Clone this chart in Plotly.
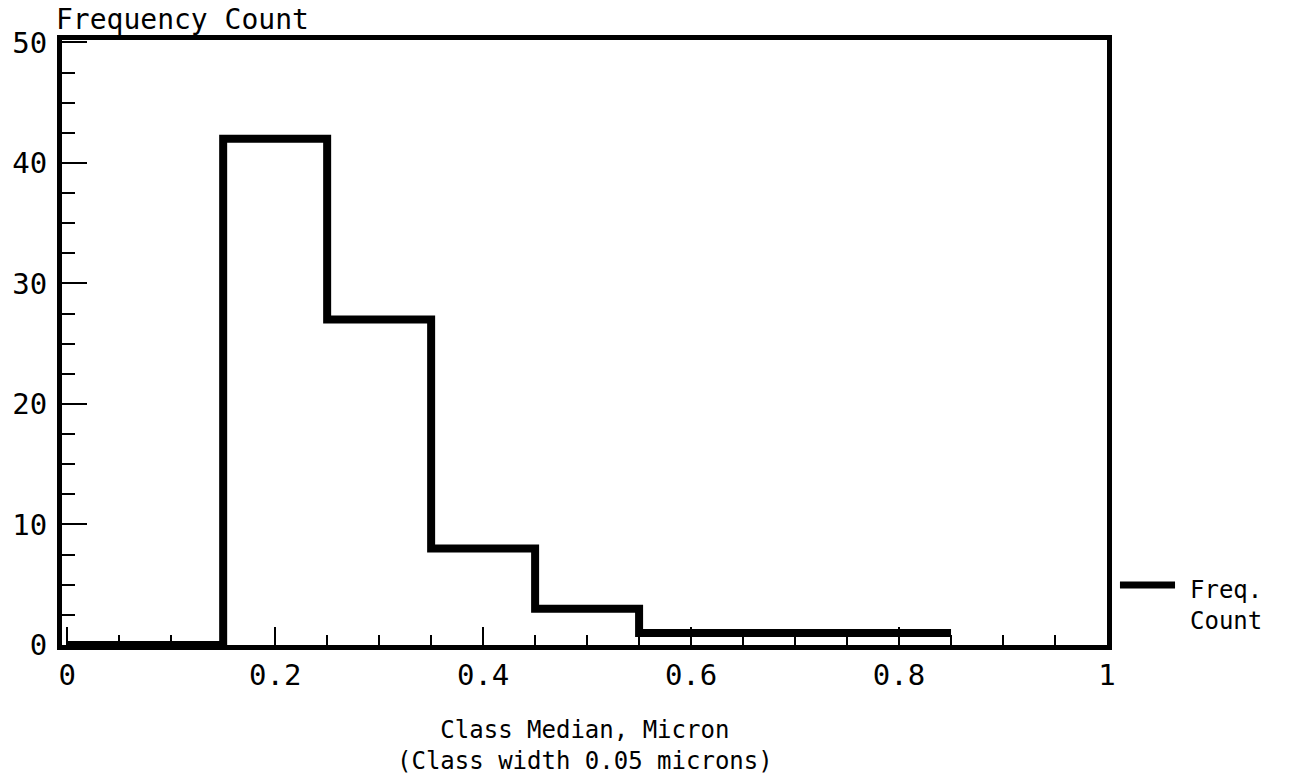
import plotly.graph_objects as go

# Histogram of particle sizes: class boundaries (microns) and frequency counts
bin_edges = [0.0, 0.15, 0.25, 0.35, 0.45, 0.55, 0.65, 0.75, 0.85]
freq_counts = [0, 42, 27, 8, 3, 1, 1, 1]

x_tick_vals = [0, 0.2, 0.4, 0.6, 0.8, 1]
x_tick_text = ["0", "0.2", "0.4", "0.6", "0.8", "1"]
y_tick_vals = [0, 10, 20, 30, 40, 50]

FONT = "DejaVu Sans Mono"

# step outline: each count holds until the next edge
step_y = freq_counts + [freq_counts[-1]]

fig = go.Figure()
fig.add_trace(go.Scatter(
    x=bin_edges, y=step_y, mode="lines",
    line=dict(shape="hv", color="black", width=8),
    name="Freq. Count", showlegend=False,
))

# key to the right of the frame: a line sample plus its label
fig.add_shape(
    type="line", xref="paper", yref="paper",
    x0=1.0124, x1=1.0651, y0=0.099, y1=0.099,
    line=dict(color="black", width=7),
)

fig.update_layout(
    width=1290, height=781,
    margin=dict(l=62, r=183, t=40, b=136),
    paper_bgcolor="white", plot_bgcolor="white",
    font=dict(family=FONT, color="black", size=24),
    annotations=[
        dict(
            text="Frequency Count", xref="paper", yref="paper",
            x=-0.008, y=1.0, xanchor="left", yanchor="bottom",
            showarrow=False, font=dict(size=28, family=FONT),
            yshift=2,
        ),
        dict(
            text="Freq.<br>Count", xref="paper", yref="paper",
            x=1.0775, y=0.118, xanchor="left", yanchor="top",
            align="left", showarrow=False,
            font=dict(size=24, family=FONT),
        ),
        # x-axis caption, two centred lines under the tick labels
        dict(
            text="Class Median, Micron<br>(Class width 0.05 microns)",
            xref="paper", yref="paper", x=0.5, y=-0.114,
            xanchor="center", yanchor="top", align="center",
            showarrow=False, font=dict(size=24, family=FONT),
        ),
    ],
)

fig.update_xaxes(
    range=[-0.005, 1.0], showgrid=False, zeroline=False, automargin=False,
    showline=True, linecolor="black", linewidth=5, mirror=True,
    tickmode="array", tickvals=x_tick_vals, ticktext=x_tick_text,
    ticks="inside", ticklen=18, tickwidth=2, tickcolor="black",
    minor=dict(dtick=0.05, tick0=0, ticks="inside", ticklen=10,
               tickwidth=2, tickcolor="black"),
    tickfont=dict(size=29, family=FONT),
    ticklabelstandoff=0,
)
fig.update_yaxes(
    range=[0, 50.2], showgrid=False, zeroline=False, automargin=False,
    showline=True, linecolor="black", linewidth=5, mirror=True,
    tickmode="array", tickvals=y_tick_vals,
    ticks="inside", ticklen=25, tickwidth=2, tickcolor="black",
    minor=dict(dtick=2.5, tick0=0, ticks="inside", ticklen=13,
               tickwidth=2, tickcolor="black"),
    tickfont=dict(size=29, family=FONT),
    ticklabelstandoff=4,
)

fig.write_html("out.html")
